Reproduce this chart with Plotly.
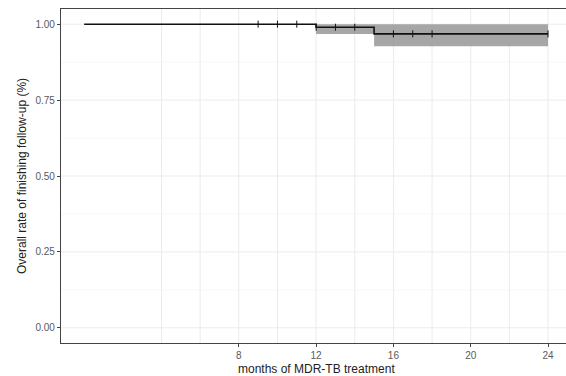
import plotly.graph_objects as go

# Kaplan-Meier step data
times = [0, 12, 15, 24]
surv = [1.0, 0.99, 0.968, 0.968]
lower = [1.0, 0.968, 0.927, 0.927]
upper = [1.0, 1.0, 1.0, 1.0]

# censoring marks
censor_times = [9, 10, 11, 12, 13, 14, 16, 17, 18, 24]
censor_surv = [1.0, 1.0, 1.0, 0.99, 0.99, 0.99, 0.968, 0.968, 0.968, 0.968]

x_ticks = [8, 12, 16, 20, 24]
x_grid = [4, 6, 8, 10, 12, 14, 16, 18, 20, 22, 24]
y_ticks = [0.0, 0.25, 0.5, 0.75, 1.0]
y_tick_labels = ["0.00", "0.25", "0.50", "0.75", "1.00"]
y_minor = [0.125, 0.375, 0.625, 0.875]

fig = go.Figure()

fig.add_trace(go.Scatter(x=times, y=upper, mode="lines", line=dict(width=0, shape="hv"),
                         showlegend=False, hoverinfo="skip"))
fig.add_trace(go.Scatter(x=times, y=lower, mode="lines", line=dict(width=0, shape="hv"),
                         fill="tonexty", fillcolor="rgba(150,150,150,0.85)",
                         showlegend=False, hoverinfo="skip"))
fig.add_trace(go.Scatter(x=times, y=surv, mode="lines", line=dict(color="#111111", width=1.6, shape="hv"),
                         showlegend=False))
fig.add_trace(go.Scatter(x=censor_times, y=censor_surv, mode="markers",
                         marker=dict(symbol="line-ns", size=5, line=dict(color="#111111", width=1)),
                         showlegend=False))

shapes = []
for g in x_grid:
    shapes.append(dict(type="line", xref="x", yref="paper", x0=g, x1=g, y0=0, y1=1,
                       line=dict(color="#ebebeb", width=1), layer="below"))
for g in y_ticks:
    shapes.append(dict(type="line", xref="paper", yref="y", x0=0, x1=1, y0=g, y1=g,
                       line=dict(color="#ebebeb", width=1), layer="below"))
for g in y_minor:
    shapes.append(dict(type="line", xref="paper", yref="y", x0=0, x1=1, y0=g, y1=g,
                       line=dict(color="#f2f2f2", width=0.6), layer="below"))

fig.update_layout(
    width=566, height=376,
    margin=dict(l=61, r=0, t=9, b=33),
    paper_bgcolor="white", plot_bgcolor="white",
    font=dict(family="Liberation Sans, Arial, sans-serif", size=11, color="#222222"),
    shapes=shapes,
    xaxis=dict(range=[-1.2, 24.93], tickvals=x_ticks, ticktext=[str(v) for v in x_ticks],
               showgrid=False, zeroline=False, showline=True, linecolor="#444444", linewidth=1.2,
               mirror=True, ticks="outside", ticklen=3, tickcolor="#444444",
               tickfont=dict(size=10, color="#5a5a5a")),
    yaxis=dict(range=[-0.05, 1.05], tickvals=y_ticks, ticktext=y_tick_labels,
               showgrid=False, zeroline=False, showline=True, linecolor="#444444", linewidth=1.2,
               ticks="outside", ticklen=3, tickcolor="#444444",
               tickfont=dict(size=10, color="#5a5a5a"),
               title=dict(text="Overall rate of finishing follow-up (%)", font=dict(size=12, color="#222222"),
                          standoff=6)),
    annotations=[dict(text="months of MDR-TB treatment", xref="x", yref="paper", x=12, y=0,
                      yshift=-17, showarrow=False, yanchor="top", font=dict(size=12, color="#222222"))],
)

fig.write_html("out.html")
